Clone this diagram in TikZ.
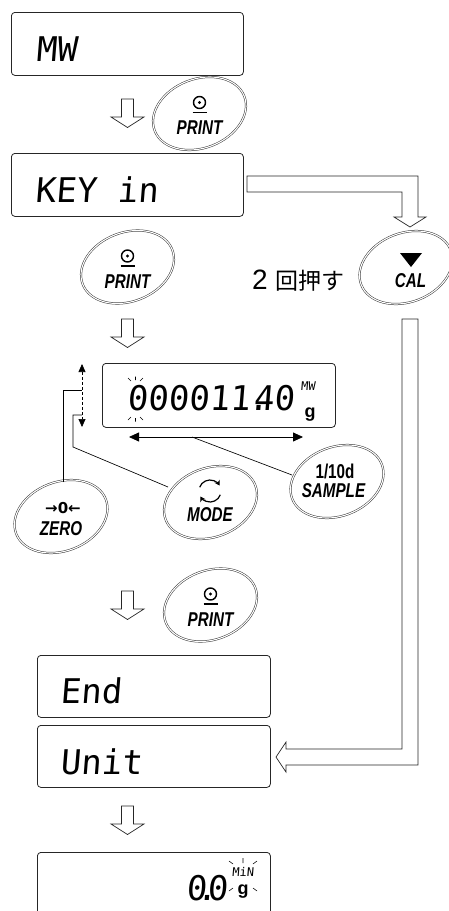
\documentclass[tikz,border=0pt]{standalone}
\usepackage{fontspec}
\setmainfont{Liberation Sans}
\newfontfamily\seg[FakeSlant=0.08,FakeStretch=1.0]{DejaVu Sans Mono}
\newfontfamily\btnf[FakeStretch=0.76]{Liberation Sans}
\newfontfamily\jpf{Noto Sans CJK JP}
\newfontfamily\djv{DejaVu Sans}
\usetikzlibrary{arrows.meta,shapes.geometric}
\tikzset{
  disp/.style={draw=black!85, line width=0.8pt, rounded corners=3.5pt, anchor=north west, inner sep=0pt},
  blk/.style={draw=black!85, line width=0.7pt, fill=white, line join=miter},
  btnring/.style={draw=black!80, double=white, double distance=1.1pt, line width=0.5pt},
  conn/.style={draw=black, line width=0.65pt},
  segbig/.style={inner sep=0pt, anchor=base west, font=\seg\fontsize{34}{40}\selectfont},
  segnum/.style={inner sep=0pt, anchor=base west, font=\seg\fontsize{34}{40}\selectfont},
  keytxt/.style={inner sep=0pt, font=\btnf\bfseries\itshape\fontsize{20}{22}\selectfont},
  keyup/.style={inner sep=0pt, font=\btnf\bfseries\fontsize{20}{22}\selectfont},
  blink/.style={draw=black, line width=0.55pt}
}
\newcommand\dnarrow[2]{\draw[blk] (#1,#2) ++(-6,0) -- ++(12,0) -- ++(0,18) -- ++(10.5,0) -- ++(-16.5,10.5) -- ++(-16.5,-10.5) -- ++(10.5,0) -- cycle;}
\newcommand\keyring[3]{\coordinate (#1) at (#2,#3);
  \draw[btnring, rotate around={21:(#1)}] (#1) ellipse [x radius=48, y radius=34.5];}
\newcommand\prnicon[1]{%
  \draw[line width=1.4pt] (#1) ++(0,-11) circle [radius=6];
  \fill (#1) ++(0,-11) circle [radius=1.7];
  \draw[line width=1.5pt] (#1) ++(-7,-1) -- ++(14,0);}
\begin{document}
\begin{tikzpicture}[x=1pt,y=-1pt]
\useasboundingbox (0,0) rectangle (449,911);
\clip (0,0) rectangle (449,911);

% ---------- displays ----------
\node[disp, minimum width=232pt, minimum height=63pt] (d1) at (11,12) {};
\node[segbig] (t1) at (36,61) {MW};

\node[disp, minimum width=232pt, minimum height=63pt] (d2) at (11,153) {};
\node[segbig] (t2) at (35,202) {KEY in};

\node[disp, minimum width=233pt, minimum height=64pt] (d3) at (102,363) {};
\node[segnum] (t3) at (127,410) {00001\kern0pt1\kern-2pt.\kern-15pt40};
\node[inner sep=0pt, font=\seg\fontsize{12}{12}\selectfont] (t3u) at (308,386) {MW};
\node[inner sep=0pt, anchor=base, font=\bfseries\fontsize{18}{18}\selectfont] (t3g) at (310,417) {g};
\draw[blink] (128,378) -- (131,381) (135.5,376.5) -- (135.5,380) (143,378) -- (140,381);
\draw[blink] (128,420) -- (131,417) (135.5,421.5) -- (135.5,418) (143,420) -- (140,417);

\node[disp, minimum width=233pt, minimum height=62pt] (d4) at (37,655) {};
\node[segbig] (t4) at (60,703) {End};

\node[disp, minimum width=233pt, minimum height=62pt] (d5) at (37,725) {};
\node[segbig] (t5) at (60,774) {Unit};

\node[disp, minimum width=233pt, minimum height=90pt] (d6) at (37,852) {};
\node[segnum] (t6) at (186,900) {0\kern-10pt.\kern-10pt0};
\node[inner sep=0pt, font=\seg\fontsize{12}{12}\selectfont] (t6u) at (243,872) {MiN};
\node[inner sep=0pt, anchor=base, font=\bfseries\fontsize{18}{18}\selectfont] (t6g) at (243,894) {g};
\draw[blink] (229,861) -- (233,864) (243,858) -- (243,863) (257,861) -- (253,864);
\draw[blink] (229,891) -- (233,888) (257,891) -- (253,888);

% ---------- simple down arrows ----------
\dnarrow{127.5}{99}
\dnarrow{127.5}{319}
\dnarrow{127.5}{591}
\dnarrow{127.5}{806}

% ---------- big hollow arrows ----------
\draw[blk] (247,176) -- (418,176) -- (418,217) -- (426,217) -- (410,227) -- (394,217) -- (402,217) -- (402,192) -- (247,192) -- cycle;
\draw[blk] (402,319) -- (418,319) -- (418,765) -- (286,765) -- (286,772) -- (276,757) -- (286,742) -- (286,749) -- (402,749) -- cycle;

% ---------- keys ----------
\keyring{pr1}{199.5}{113.5}
\prnicon{pr1}
\node[keytxt] (pr1t) at (199.5,128) {PRINT};

\keyring{pr2}{127.5}{267}
\prnicon{pr2}
\node[keytxt] (pr2t) at (127.5,282) {PRINT};

\keyring{cal}{406}{267.5}
\fill (400,253) -- (422,253) -- (411,267) -- cycle;
\node[keytxt] (calt) at (410.5,280.5) {CAL};
\node[inner sep=0pt, anchor=base west] (twice) at (252,289)
  {\fontsize{28}{30}\selectfont 2\hspace{8pt}\jpf\fontsize{23}{26}\selectfont 回押す};

\keyring{zero}{61}{516.5}
\node[inner sep=0pt, font=\djv\bfseries\fontsize{15}{15}\selectfont] (zerot1) at (63,508) {→0←};
\node[keytxt] (zerot) at (61,528.5) {ZERO};

\keyring{mode}{210.5}{502.5}
\coordinate (mic) at (210,491);
\draw[line width=1.2pt, -{Stealth[length=5pt,width=6pt]}] (mic) ++(200:11) arc [start angle=200, end angle=330, radius=11];
\draw[line width=1.2pt, -{Stealth[length=5pt,width=6pt]}] (mic) ++(20:11) arc [start angle=20, end angle=150, radius=11];
\node[keytxt] (modet) at (210,515) {MODE};

\keyring{samp}{337}{481.5}
\node[keyup] (sampt1) at (335,471) {1/10d};
\node[keytxt] (sampt) at (333.5,490.5) {SAMPLE};

\keyring{pr3}{210.5}{605}
\prnicon{pr3}
\node[keytxt] (pr3t) at (210.5,620) {PRINT};

% ---------- connectors ----------
\coordinate (dtop) at (82,364);
\coordinate (dbot) at (82,427);
\draw[conn, dash pattern=on 3pt off 2pt, {Triangle[length=8pt,width=7pt]}-{Triangle[length=8pt,width=7pt]}] (dtop) -- (dbot);
\coordinate (zj) at (82,390);
\coordinate (zend) at (63,482);
\draw[conn] (zend) -- (63,390) -- (zj);
\coordinate (mj) at (82,415);
\coordinate (mend) at (168,487);
\draw[conn] (mend) -- (73,447) -- (73,415) -- (mj);

\coordinate (hl) at (129,437);
\coordinate (hr) at (303,437);
\draw[conn, line width=0.8pt, {Triangle[length=10pt,width=9pt]}-{Triangle[length=10pt,width=9pt]}] (hl) -- (hr);
\coordinate (hm) at (192,437);
\coordinate (send) at (292,475);
\draw[conn] (hm) -- (send);
\end{tikzpicture}
\end{document}
